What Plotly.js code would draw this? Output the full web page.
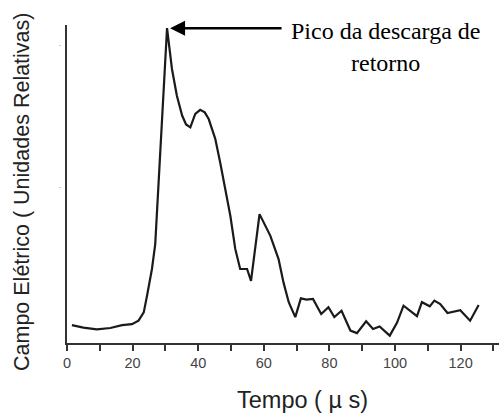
<!DOCTYPE html>
<html>
<head>
<meta charset="utf-8">
<script src="https://cdn.plot.ly/plotly-3.0.1.min.js"></script>
<style>html,body{margin:0;padding:0;background:#fff;}#chart{width:499px;height:416px;}</style>
</head>
<body>
<div id="chart"></div>
<script>
// Time (µs)
var tempo = [1.5, 5.0, 9.1, 13.2, 16.8, 19.8, 21.8, 23.4, 24.4, 25.9, 26.9, 30.5, 32.0, 33.5, 35.1, 36.3, 37.6, 39.1, 40.6, 42.0, 43.2, 45.2, 46.7, 48.8, 49.8, 51.3, 52.8, 54.9, 56.1, 58.7, 60.3, 62.0, 64.5, 66.0, 67.6, 69.6, 71.3, 73.0, 75.0, 77.5, 79.7, 81.5, 83.7, 86.4, 88.4, 91.2, 93.3, 95.3, 98.4, 100.6, 102.6, 106.7, 108.2, 110.6, 112.0, 113.8, 116.0, 119.9, 122.9, 125.5];
// Electric field (relative units)
var campo = [5.6, 4.8, 4.3, 4.7, 5.6, 5.9, 7.0, 9.6, 14.8, 23.2, 31.0, 98.7, 85.9, 77.5, 71.3, 68.5, 67.6, 71.8, 73.1, 72.3, 70.2, 64.0, 56.6, 45.1, 39.9, 29.5, 23.2, 23.2, 19.5, 40.4, 37.2, 33.6, 26.3, 19.0, 12.8, 8.1, 14.0, 13.6, 13.8, 9.1, 11.2, 8.1, 10.1, 3.9, 3.1, 6.8, 4.4, 5.2, 2.3, 6.3, 11.7, 8.4, 12.8, 11.5, 13.3, 12.2, 9.4, 10.3, 7.0, 11.9];
var xTickVals = [0, 20, 40, 60, 80, 100, 120];
var yDotVals = [49.5, 94];

var peakIdx = campo.indexOf(Math.max.apply(null, campo));

var trace = {
  x: tempo, y: campo, type: 'scatter', mode: 'lines',
  line: {color: '#1a1a1a', width: 2.2},
  hoverinfo: 'skip', showlegend: false
};

var sans = 'Liberation Sans, Arial, sans-serif';
var serif = 'Liberation Serif, Times New Roman, serif';
var L = 67, T = 25, B = 73, W = 499, H = 416;
var pw = W - L, ph = H - T - B;
function px(xp){ return (xp - L) / pw; }
function py(yp){ return (H - B - yp) / ph; }

var layout = {
  width: W, height: H,
  margin: {l: L, r: 0, t: T, b: B},
  paper_bgcolor: '#fff', plot_bgcolor: '#fff',
  showlegend: false,
  xaxis: {
    range: [0, pw / 3.28],
    showline: true, linecolor: '#333', linewidth: 2,
    showgrid: false, zeroline: false,
    tickmode: 'array', tickvals: xTickVals,
    ticks: 'outside', ticklen: 6, tickwidth: 2, tickcolor: '#333',
    minor: {dtick: 10, tick0: 0, ticks: 'outside', ticklen: 6, tickwidth: 2, tickcolor: '#333', showgrid: false},
    tickfont: {family: sans, size: 14.5, color: '#444'}
  },
  yaxis: {
    range: [0, ph / 3.19],
    showline: true, linecolor: '#333', linewidth: 2,
    showgrid: false, zeroline: false,
    tickmode: 'array', tickvals: yDotVals, ticktext: ['.', '.'],
    ticks: '', ticklabelstandoff: 2,
    tickfont: {family: sans, size: 9, color: '#888'}
  },
  annotations: [
    {xref: 'paper', yref: 'paper', x: px(22), y: py(192), xanchor: 'center', yanchor: 'middle',
     text: 'Campo Elétrico ( Unidades Relativas)', textangle: -90, showarrow: false,
     font: {family: sans, size: 21.5, color: '#222'}},
    {xref: 'paper', yref: 'paper', x: px(302), y: py(400), xanchor: 'center', yanchor: 'middle',
     text: 'Tempo ( µ s)', showarrow: false,
     font: {family: sans, size: 23.5, color: '#222'}},
    {xref: 'x', yref: 'y', x: tempo[peakIdx], y: campo[peakIdx], text: '',
     showarrow: true, axref: 'pixel', ayref: 'pixel', ax: 116, ay: 0,
     arrowhead: 2, arrowsize: 1.2, arrowwidth: 2.5, arrowcolor: '#000', standoff: 3},
    {xref: 'paper', yref: 'paper', x: px(385), y: py(31), xanchor: 'center', yanchor: 'middle',
     text: 'Pico da descarga de', showarrow: false,
     font: {family: serif, size: 24, color: '#000'}},
    {xref: 'paper', yref: 'paper', x: px(385), y: py(63), xanchor: 'center', yanchor: 'middle',
     text: 'retorno', showarrow: false,
     font: {family: serif, size: 24, color: '#000'}}
  ]
};

Plotly.newPlot('chart', [trace], layout, {staticPlot: true, displayModeBar: false});
</script>
</body>
</html>
